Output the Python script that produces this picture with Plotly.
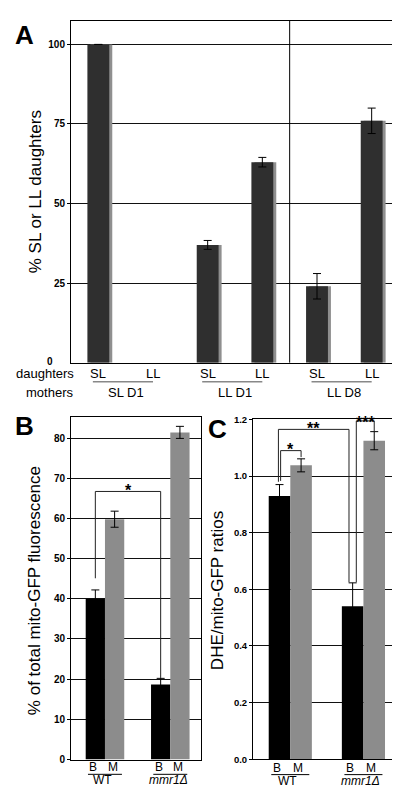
import plotly.graph_objects as go

W, H = 400, 793

# ---------------- data ----------------
# Panel A
a_daughters = ["SL", "LL", "SL", "LL", "SL", "LL"]
a_mothers = ["SL D1", "LL D1", "LL D8"]
a_values = [100, None, 37, 63, 24, 76]
a_errors = [0, None, 1.4, 1.5, 4, 4]
a_yticks = [25, 50, 75, 100]
a_zero_label = "0"

# Panel B
bc_groups = ["WT", "<i>mmr1Δ</i>"]
bc_bars = ["B", "M"]
b_bud = [40.0, 18.7]
b_bud_err = [2.2, 1.5]
b_mother = [59.8, 81.4]
b_mother_err = [2.0, 1.5]
b_yticks = [0, 10, 20, 30, 40, 50, 60, 70, 80]

# Panel C
c_bud = [0.93, 0.54]
c_bud_err = [0.04, 0.083]
c_mother = [1.038, 1.125]
c_mother_err = [0.023, 0.032]
c_yticks = [0.0, 0.2, 0.4, 0.6, 0.8, 1.0, 1.2]

# significance brackets: (left bar, left group, right bar, right group, y_left, y_top, y_right, label)
b_brackets = [("B", 0, "B", 1, 45.1, 66.7, 20.3, "*")]
c_brackets = [
    ("B", 0, "M", 0, 0.983, 1.09, 1.067, "*"),
    ("B", 0, "B", 1, 0.98, 1.165, 0.625, "**"),
    ("B", 1, "M", 1, 0.625, 1.195, 1.158, "***"),
]

# ---------------- helpers ----------------
def py(p):
    return 1 - p / H

def px(p):
    return p / W

FONT = "Liberation Sans, Arial, Helvetica, sans-serif"
DARK = "#2f2f2f"
SHADOW = "#8f8f8f"
GRAY = "#8c8c8c"
BLACK = "#000000"
BW = 0.295  # bar width in B / C

fig = go.Figure()

# ---- Panel A ----
a_x = list(range(len(a_values)))
fig.add_trace(go.Bar(x=a_x, y=a_values, width=0.4, offset=-0.145, marker_color=SHADOW,
                     marker_line_width=0, xaxis="x", yaxis="y", showlegend=False, hoverinfo="skip"))
fig.add_trace(go.Bar(x=a_x, y=a_values, width=0.4, offset=-0.2, marker_color=DARK,
                     marker_line_width=0, xaxis="x", yaxis="y", showlegend=False,
                     error_y=dict(type="data", array=a_errors, color=BLACK, thickness=1, width=4)))

# ---- Panel B / C ----
grp_x = list(range(len(bc_groups)))
for (bud, bud_err, mom, mom_err, xa, ya) in [
    (b_bud, b_bud_err, b_mother, b_mother_err, "x2", "y2"),
    (c_bud, c_bud_err, c_mother, c_mother_err, "x3", "y3"),
]:
    fig.add_trace(go.Bar(x=grp_x, y=bud, width=BW, offset=-BW, marker_color=BLACK,
                         marker_line_width=0, xaxis=xa, yaxis=ya, showlegend=False,
                         error_y=dict(type="data", array=bud_err, color=BLACK, thickness=1, width=4)))
    fig.add_trace(go.Bar(x=grp_x, y=mom, width=BW, offset=0, marker_color=GRAY,
                         marker_line_width=0, xaxis=xa, yaxis=ya, showlegend=False,
                         error_y=dict(type="data", array=mom_err, color=BLACK, thickness=1, width=4)))

def bar_center(bar, g):
    return g - BW / 2 if bar == "B" else g + BW / 2

shapes = []
annotations = []

# divider in panel A between LL D1 and LL D8
shapes.append(dict(type="line", xref="x", yref="y domain", x0=3.5, x1=3.5, y0=0, y1=1,
                   line=dict(color=BLACK, width=1)))

# zero tick label of panel A (sits a little left of the others)
annotations.append(dict(x=px(47), y=0, xref="paper", yref="y", text=f"<b>{a_zero_label}</b>",
                        showarrow=False, xanchor="right", yanchor="middle", yshift=1,
                        font=dict(family=FONT, size=10, color=BLACK)))

# brackets
def add_brackets(brs, xa, ya, nudges, star_size):
    for (lb, lg, rb, rg, yl, yt, yr, lab), (dl, dr, sy) in zip(brs, nudges):
        xl = bar_center(lb, lg) + dl
        xr = bar_center(rb, rg) + dr
        shapes.append(dict(type="path", xref=xa, yref=ya,
                           path=f"M {xl},{yl} L {xl},{yt} L {xr},{yt} L {xr},{yr}",
                           line=dict(color="#222", width=1)))
        annotations.append(dict(x=(xl + xr) / 2, y=yt, xref=xa, yref=ya, text=f"<b>{lab}</b>",
                                showarrow=False, yanchor="middle", yshift=sy,
                                font=dict(family=FONT, size=star_size, color=BLACK)))

add_brackets(b_brackets, "x2", "y2", [(0, 0, 1)], 16)
add_brackets(c_brackets, "x3", "y3", [(0.015, 0.0, 1), (-0.015, -0.05, 1), (0.05, 0, -2)], 16)

# Panel A category labels
lab_font = dict(family=FONT, size=13, color=BLACK)
annotations.append(dict(x=px(68), y=py(365), xref="paper", yref="paper", text="daughters",
                        showarrow=False, xanchor="right", yanchor="middle", font=lab_font))
annotations.append(dict(x=px(67), y=py(384), xref="paper", yref="paper", text="mothers",
                        showarrow=False, xanchor="right", yanchor="middle", font=lab_font))
for i, t in enumerate(a_daughters):
    annotations.append(dict(x=i, y=py(365), xref="x", yref="paper", text=t, showarrow=False,
                            yanchor="middle", font=lab_font))
for j, t in enumerate(a_mothers):
    c0 = 2 * j
    annotations.append(dict(x=c0 + 0.5, y=py(384), xref="x", yref="paper", text=t, showarrow=False,
                            yanchor="middle", font=lab_font))
    shapes.append(dict(type="line", xref="x", yref="paper", x0=c0 - 0.1, x1=c0 + 1.0,
                       y0=py(373.5), y1=py(373.5), line=dict(color="#888", width=1.5)))

# Panel B / C bar + group labels
for xa, ylab, yul, ygrp, xs in [("x2", 765, 772, 778, -2), ("x3", 765.5, 772.3, 779, -3)]:
    for g, gname in enumerate(bc_groups):
        for b in bc_bars:
            annotations.append(dict(x=bar_center(b, g), y=py(ylab), xref=xa, yref="paper", text=b,
                                    showarrow=False, yanchor="middle", xshift=xs,
                                    font=dict(family=FONT, size=12, color=BLACK)))
        annotations.append(dict(x=g, y=py(ygrp), xref=xa, yref="paper", text=gname,
                                showarrow=False, yanchor="middle", xshift=xs,
                                font=dict(family=FONT, size=12, color=BLACK)))
        shapes.append(dict(type="line", xref=xa, yref="paper", x0=g - 0.26, x1=g + 0.26,
                           y0=py(yul), y1=py(yul), line=dict(color=BLACK, width=1)))

# y titles
ttl_font = dict(family=FONT, size=17, color=BLACK)
for (xp, yp, t) in [(27, 181, "% SL or LL daughters"),
                    (26, 586, "% of total mito-GFP fluorescence"),
                    (209, 586, "DHE/mito-GFP ratios")]:
    annotations.append(dict(x=px(xp), y=py(yp), xref="paper", yref="paper", text=t, textangle=-90,
                            showarrow=False, xanchor="center", yanchor="middle", font=ttl_font))

# panel letters
for (xp, yp, t) in [(16, 21, "A"), (16, 418, "B"), (209, 421, "C")]:
    annotations.append(dict(x=px(xp), y=py(yp), xref="paper", yref="paper", text=f"<b>{t}</b>",
                            showarrow=False, xanchor="center", yanchor="middle",
                            font=dict(family=FONT, size=26, color=BLACK)))

def yax(domain, rng, ticks, fmt, size):
    return dict(domain=domain, range=rng, tickvals=ticks, tickformat=fmt,
                showgrid=True, gridcolor="#111", gridwidth=1, zeroline=False,
                showline=True, linecolor=BLACK, linewidth=1, mirror=True,
                ticks="outside", ticklen=3, tickcolor=BLACK,
                tickfont=dict(family=FONT, size=size, color=BLACK, weight="bold"),
                fixedrange=True)

def xax(domain, rng, anchor):
    return dict(domain=domain, range=rng, anchor=anchor, showticklabels=False, ticks="",
                showgrid=False, zeroline=False, showline=True, linecolor=BLACK, linewidth=1,
                mirror=True, fixedrange=True)

fig.update_layout(
    width=W, height=H, margin=dict(l=0, r=0, t=0, b=0),
    paper_bgcolor="white", plot_bgcolor="white",
    barmode="overlay", showlegend=False,
    xaxis=xax([px(63), px(391)], [-0.5, 5.5], "y"),
    yaxis=yax([py(354), py(7)], [0, 107.4], a_yticks, "d", 10),
    xaxis2=xax([px(63), px(193)], [-0.52, 1.47], "y2"),
    yaxis2=yax([py(757), py(409.3)], [0, 85.2], b_yticks, "d", 10),
    xaxis3=xax([px(245), px(392)], [-0.51, 1.5], "y3"),
    yaxis3=yax([py(756.7), py(411.7)], [0, 1.2], c_yticks, ".1f", 9.5),
    shapes=shapes, annotations=annotations,
)
fig.update_layout(yaxis2=dict(anchor="x2"), yaxis3=dict(anchor="x3"), yaxis=dict(anchor="x"))

fig.write_html("out.html")
